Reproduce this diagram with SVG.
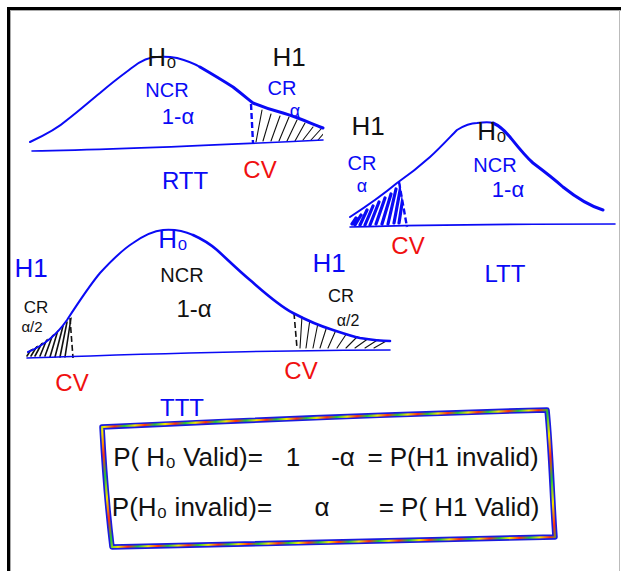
<svg xmlns="http://www.w3.org/2000/svg" width="621" height="571" viewBox="0 0 621 571">
<defs>
<style>
.cv{fill:none;stroke:#0a0af5;stroke-width:2;stroke-linecap:round;stroke-linejoin:round}
.bl{fill:none;stroke:#0a0af5;stroke-width:1.6;stroke-linecap:round}
.dash{fill:none;stroke-width:2.4;stroke-dasharray:6 3}
.h{fill:none;stroke:#111;stroke-width:1.1;stroke-linecap:round}
.hb{fill:none;stroke:#0a0af5;stroke-width:3.2;stroke-linecap:round}
text{font-family:"Liberation Sans","DejaVu Sans",sans-serif;text-anchor:middle}
.b{fill:#0a0af5}
.k{fill:#111}
.r{fill:#f01010}
</style>
<linearGradient id="rb" gradientUnits="userSpaceOnUse" x1="0" y1="0" x2="26" y2="10" spreadMethod="repeat">
<stop offset="0" stop-color="#f5e800"/>
<stop offset="0.33" stop-color="#ff3010"/>
<stop offset="0.66" stop-color="#20c040"/>
<stop offset="1" stop-color="#f5e800"/>
</linearGradient>
<clipPath id="cRTT"><path d="M252,103 C265,108 275,111 283,113 C300,118 312,124 323,128 L323,141 L252,143 Z"/></clipPath>
<clipPath id="cLTT"><path d="M350,217 C370,204 385,193 400,182 L407,227 L350,227 Z"/></clipPath>
<clipPath id="cTL"><path d="M26,352 C40,345 55,335 72,316 L73,358 L26,358 Z"/></clipPath>
<clipPath id="cTR"><path d="M295,313 C310,320 320,326 333,330 C345,334 360,338 390,341 L390,349 L295,349 Z"/></clipPath>
</defs>
<rect width="621" height="571" fill="#fff"/>
<g id="frame">
<line x1="8.5" y1="8" x2="8.5" y2="571" stroke="#000" stroke-width="3"/>
<line x1="7" y1="8.5" x2="621" y2="8.5" stroke="#000" stroke-width="3"/>
<line x1="10.5" y1="10" x2="10.5" y2="571" stroke="#aaa" stroke-width="1"/>
<line x1="10" y1="10.5" x2="621" y2="10.5" stroke="#aaa" stroke-width="1"/>
<line x1="619.5" y1="10" x2="619.5" y2="571" stroke="#bbb" stroke-width="1"/>
</g>
<g id="rtt">
<g clip-path="url(#cRTT)">
<path class="h" d="M256,142 L262,110 M263,141 L271,114 M271,141 L280,116 M279,141 L289,117 M287,141 L297,120 M295,141 L305,123 M303,140 L313,127 M311,140 L321,129 M318,140 L325,132"/>
</g>
<path class="dash" stroke="#0a0af5" d="M251,104 L253,143"/>
<path class="bl" d="M32,151 C100,150 200,146 323,140"/>
<path class="cv" d="M30,142 C45,135 58,128 67,120 C80,110 90,101 100,93 C115,80 125,73 133,67 C142,60 150,57 157,57 C166,56 172,57 177,58 C188,61 195,64 200,67"/>
<path class="cv" style="stroke-width:3" d="M200,67 C212,74 222,80 233,87 C242,94 248,99 253,103 C265,108 275,111 283,113 C300,118 312,124 323,128"/>
<text class="k" x="162" y="66" font-size="26">H₀</text>
<text class="k" x="289" y="66" font-size="26">H1</text>
<text class="b" x="167" y="97" font-size="20">NCR</text>
<text class="b" x="178" y="124" font-size="22">1-α</text>
<text class="b" x="282" y="95" font-size="20">CR</text>
<text class="b" x="295" y="117" font-size="18">α</text>
<text class="b" x="185" y="189" font-size="24">RTT</text>
<text class="r" x="260" y="178" font-size="24">CV</text>
</g>
<g id="ltt">
<g clip-path="url(#cLTT)">
<path class="hb" d="M352,224 L356,218 M355,225 L361,215 M360,225 L367,210 M365,225 L373,206 M370,225 L379,202 M376,224 L385,198 M382,224 L391,194 M388,224 L396,189 M394,223 L401,185 M399,223 L405,184"/>
</g>
<path class="dash" stroke="#0a0af5" d="M399,182 L407,227"/>
<path class="bl" d="M350,227 C420,225 520,224 615,224"/>
<path class="cv" d="M350,217 C370,204 385,193 397,183 C410,174 420,166 430,157 C440,148 450,137 457,130 C465,125 470,123 477,123 C485,122 490,122 493,123"/>
<path class="cv" style="stroke-width:3" d="M493,123 C500,126 505,131 510,137 C518,147 525,156 533,163 C545,172 553,178 563,187 C578,199 590,206 603,210"/>
<text class="k" x="368" y="135" font-size="26">H1</text>
<text class="k" x="492" y="140" font-size="26">H₀</text>
<text class="b" x="362" y="170" font-size="20">CR</text>
<text class="b" x="362" y="192" font-size="18">α</text>
<text class="b" x="495" y="172" font-size="20">NCR</text>
<text class="b" x="508" y="197" font-size="22">1-α</text>
<text class="r" x="408" y="254" font-size="24">CV</text>
<text class="b" x="505" y="282" font-size="24">LTT</text>
</g>
<g id="ttt">
<g clip-path="url(#cTL)">
<path class="h" style="stroke-width:1.6" d="M27,356 L32,348 M31,356 L37,346 M35,356 L42,343 M40,356 L47,339 M45,356 L53,334 M50,357 L58,330 M55,357 L63,326 M60,357 L67,322 M65,357 L71,318"/>
</g>
<path class="dash" stroke="#111" style="stroke-width:1.6" d="M70,318 L73,358"/>
<g clip-path="url(#cTR)">
<path class="h" d="M300,348 L302,316 M306,348 L310,319 M313,348 L318,323 M320,348 L327,326 M328,348 L336,330 M337,348 L347,333 M346,348 L358,336 M355,348 L369,338 M365,348 L379,339 M374,348 L388,340"/>
</g>
<path class="dash" stroke="#111" style="stroke-width:1.6" d="M294,313 L297,348"/>
<path class="bl" d="M27,358 C120,355 250,350 390,350"/>
<path class="cv" d="M28,352 C45,345 58,333 67,320 C80,300 90,285 100,273 C112,260 122,250 133,243 C143,236 152,231 163,230 C175,229 184,231 193,235"/>
<path class="cv" style="stroke-width:2.6" d="M193,235 C202,239 210,244 217,250 C228,260 238,270 250,280 C265,293 278,305 293,313 C310,322 320,326 333,330 C345,334 355,337 360,338 C372,340 380,341 390,341"/>
<text class="b" x="31" y="277" font-size="26">H1</text>
<text class="b" x="173" y="248" font-size="26">H₀</text>
<text class="k" x="182" y="282" font-size="20">NCR</text>
<text class="k" x="194" y="317" font-size="24">1-α</text>
<text class="k" x="36" y="313" font-size="17">CR</text>
<text class="k" x="32" y="332" font-size="15">α/2</text>
<text class="b" x="329" y="272" font-size="26">H1</text>
<text class="k" x="341" y="302" font-size="18">CR</text>
<text class="k" x="348" y="326" font-size="16">α/2</text>
<text class="r" x="72" y="391" font-size="24">CV</text>
<text class="r" x="301" y="379" font-size="24">CV</text>
<text class="b" x="182" y="416" font-size="24">TTT</text>
</g>
<g id="box">
<path d="M102,427 C250,420 400,414 547,410 C551,450 552,495 555,537 C400,540 250,544 112,547 C107,505 104,465 102,427 Z" fill="#fff" stroke="#1a1ae0" stroke-width="5.5" stroke-linejoin="round"/>
<path d="M102,427 C250,420 400,414 547,410 C551,450 552,495 555,537 C400,540 250,544 112,547 C107,505 104,465 102,427 Z" fill="none" stroke="url(#rb)" stroke-width="2.2" stroke-linejoin="round"/>
<g class="k" font-size="26">
<text x="188" y="466">P( H₀ Valid)=</text>
<text x="293" y="466">1</text>
<text x="343" y="466">-α</text>
<text x="453" y="466">= P(H1 invalid)</text>
<text x="192" y="516">P(H₀ invalid)=</text>
<text x="322" y="516">α</text>
<text x="459" y="516">= P( H1 Valid)</text>
</g>
</g>
</svg>
